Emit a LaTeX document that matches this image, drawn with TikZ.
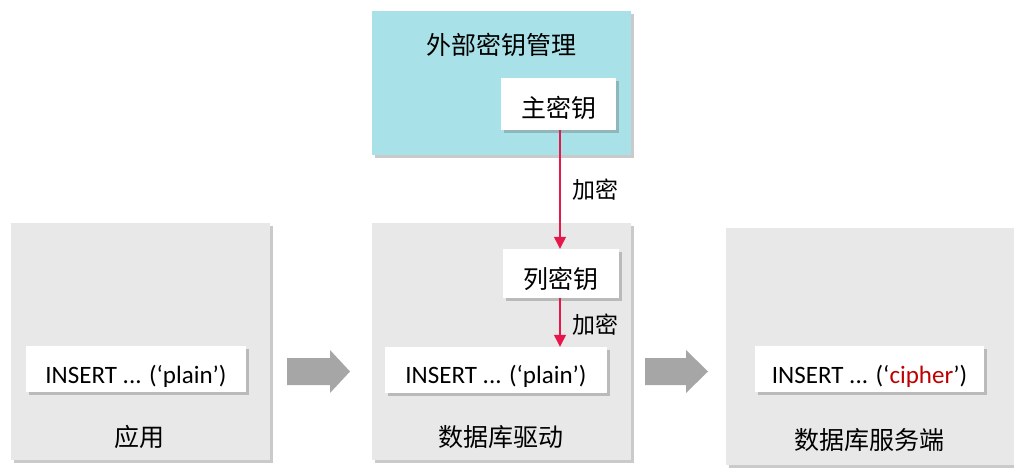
\documentclass[tikz,border=0pt]{standalone}
\usepackage{fontspec}
\setmainfont{Carlito}
\newfontfamily\cjk{Noto Sans CJK SC}
\usetikzlibrary{shadows,arrows.meta}
\definecolor{boxgray}{HTML}{E8E8E8}
\definecolor{kmscyan}{HTML}{A9E1E8}
\definecolor{keyred}{HTML}{E8174A}
\definecolor{blockgray}{HTML}{A6A6A6}
\definecolor{ciphred}{HTML}{C00000}
\newcommand{\lowerby}[2]{\raisebox{-#1}[\height][\depth]{#2}}
\tikzset{
  bigbox/.style={rectangle, inner sep=0pt, draw=none,
    drop shadow={shadow xshift=3pt, shadow yshift=-3pt, opacity=0.35, fill=black!60}},
  whitebox/.style={rectangle, fill=white, inner sep=0pt, draw=none,
    drop shadow={shadow xshift=3pt, shadow yshift=-3pt, opacity=0.35, fill=black!60},
    font=\fontsize{25}{30}\selectfont},
  cjklabel/.style={inner sep=0pt, font=\fontsize{25}{30}\selectfont\cjk},
  enclabel/.style={inner sep=0pt, font=\fontsize{23}{27}\selectfont\cjk},
  keyarrow/.style={draw=keyred, line width=1.3pt, -{Triangle[length=12pt,width=12pt]}},
  blockarrow/.style={fill=blockgray, draw=none}
}
\begin{document}
\begin{tikzpicture}[x=1pt,y=-1pt]
\useasboundingbox (0,0) rectangle (1014,468);
% big boxes
\node[bigbox, fill=kmscyan, minimum width=259pt, minimum height=144pt] (kms) at (501.5,83) {};
\node[bigbox, fill=boxgray, minimum width=259pt, minimum height=237pt] (app) at (140.5,341.5) {};
\node[bigbox, fill=boxgray, minimum width=259pt, minimum height=237pt] (drv) at (501.5,341.5) {};
\node[bigbox, fill=boxgray, minimum width=290pt, minimum height=237pt] (srv) at (871,346.5) {};
% titles
\node[cjklabel] (kmst) at (501,45) {外部密钥管理};
\node[cjklabel] (appt) at (139,437) {应用};
\node[cjklabel] (drvt) at (501,437) {数据库驱动};
\node[cjklabel] (srvt) at (869,440) {数据库服务端};
% inner boxes
\node[whitebox, minimum width=115pt, minimum height=52pt] (mk) at (558.5,104) {\lowerby{4pt}{\cjk 主密钥}};
\node[whitebox, minimum width=116pt, minimum height=49pt] (ck) at (561,273.5) {\lowerby{5pt}{\cjk 列密钥}};
\node[whitebox, minimum width=220pt, minimum height=46pt] (ins1) at (136,369) {\lowerby{7pt}{INSERT ... (‘plain’)}};
\node[whitebox, minimum width=222pt, minimum height=46pt] (ins2) at (496,370) {\lowerby{6pt}{INSERT ... (‘plain’)}};
\node[whitebox, minimum width=229pt, minimum height=46pt] (ins3) at (869.5,369) {\lowerby{7pt}{INSERT ... (‘\textcolor{ciphred}{cipher}’)}};
% key arrows
\draw[keyarrow] (mk.south -| 560,0) -- (ck.north -| 560,0) node[midway, right=12pt, enclabel] (enc1) {加密};
\draw[keyarrow] (ck.south -| 560,0) -- (ins2.north -| 560,0) node[midway, right=12pt, enclabel, yshift=-2pt] (enc2) {加密};
% block arrows
\fill[blockarrow] (287,358) -- (330,358) -- (330,350) -- (350,371.5) -- (330,393) -- (330,385) -- (287,385) -- cycle;
\fill[blockarrow] (645,358) -- (686,358) -- (686,350) -- (708,371.5) -- (686,393) -- (686,385) -- (645,385) -- cycle;
\end{tikzpicture}
\end{document}
